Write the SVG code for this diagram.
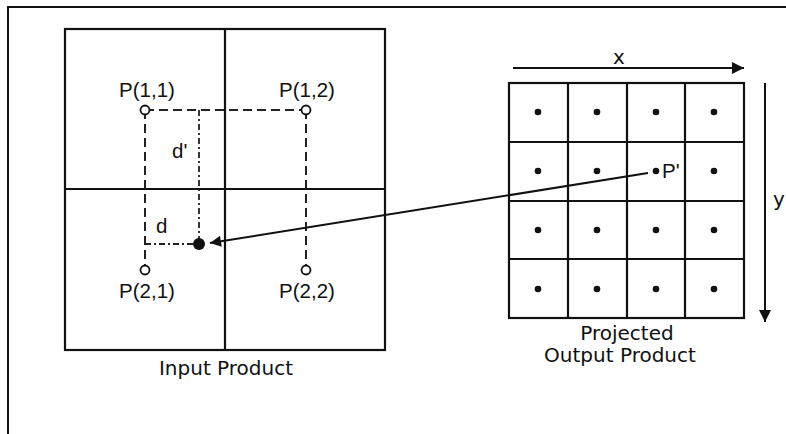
<svg xmlns="http://www.w3.org/2000/svg" width="786" height="434" viewBox="0 0 786 434">
  <defs>
    <style>
      .frame { fill: none; stroke: #111; stroke-width: 2; }
      .grid { fill: none; stroke: #111; stroke-width: 2.2; }
      .dash { fill: none; stroke: #222; stroke-width: 2; stroke-dasharray: 9 5; }
      .dashdot { fill: none; stroke: #222; stroke-width: 1.8; stroke-dasharray: 6 3 2 3; }
      .pt { fill: #fff; stroke: #111; stroke-width: 1.8; }
      .dot { fill: #111; }
      .lbl { font-family: "Liberation Sans", Arial, sans-serif; font-size: 20.5px; fill: #111; }
      .cap { font-family: "DejaVu Sans", Verdana, sans-serif; font-size: 20px; fill: #111; text-anchor: middle; }
      .axis { fill: none; stroke: #111; stroke-width: 2; }
    </style>
    <marker id="head" viewBox="0 0 10 10" refX="10" refY="5" markerWidth="7" markerHeight="6" markerUnits="strokeWidth" orient="auto">
      <path d="M0,0 L10,5 L0,10 z" fill="#111"/>
    </marker>
    <marker id="headThin" viewBox="0 0 10 10" refX="10" refY="5" markerWidth="7" markerHeight="5.5" markerUnits="strokeWidth" orient="auto">
      <path d="M0,0 L10,5 L0,10 z" fill="#111"/>
    </marker>
  </defs>

  <rect width="786" height="434" fill="#fff"/>

  <!-- outer frame (top and left borders) -->
  <path class="frame" d="M8,434 V7 H786"/>

  <!-- input product: 2x2 cells -->
  <g id="input-product">
    <rect class="grid" x="65" y="29" width="320" height="321"/>
    <line class="grid" x1="225" y1="29" x2="225" y2="350"/>
    <line class="grid" x1="65" y1="189" x2="385" y2="189"/>
    <text class="cap" x="226" y="375">Input Product</text>
  </g>

  <!-- interpolation construction -->
  <g id="interpolation">
    <path class="dash" d="M145,110 H306 M145,110 V266 M306,110 V266"/>
    <path class="dashdot" d="M199,110 V240 M145,244 H196"/>
    <circle class="dot" cx="199" cy="244" r="6"/>
    <text class="lbl" x="172" y="158">d'</text>
    <text class="lbl" x="156" y="233">d</text>
  </g>

  <g id="p11">
    <circle class="pt" cx="145" cy="110" r="4.5"/>
    <text class="lbl" x="147" y="97" text-anchor="middle">P(1,1)</text>
  </g>
  <g id="p12">
    <circle class="pt" cx="306" cy="110" r="4.5"/>
    <text class="lbl" x="307" y="97" text-anchor="middle">P(1,2)</text>
  </g>
  <g id="p21">
    <circle class="pt" cx="145" cy="270" r="4.5"/>
    <text class="lbl" x="147" y="298" text-anchor="middle">P(2,1)</text>
  </g>
  <g id="p22">
    <circle class="pt" cx="306" cy="270" r="4.5"/>
    <text class="lbl" x="307" y="298" text-anchor="middle">P(2,2)</text>
  </g>

  <!-- projected output product: 4x4 grid -->
  <g id="output-product">
    <rect class="grid" x="509" y="83" width="235" height="235"/>
    <path class="grid" d="M568,83 V318 M627,83 V318 M685,83 V318 M509,142 H744 M509,201 H744 M509,259 H744"/>
    <g class="dot">
      <circle cx="538" cy="112" r="3.3"/><circle cx="597" cy="112" r="3.3"/><circle cx="656" cy="112" r="3.3"/><circle cx="714" cy="112" r="3.3"/>
      <circle cx="538" cy="171" r="3.3"/><circle cx="597" cy="171" r="3.3"/><circle cx="656" cy="171" r="3.3"/><circle cx="714" cy="171" r="3.3"/>
      <circle cx="538" cy="230" r="3.3"/><circle cx="597" cy="230" r="3.3"/><circle cx="656" cy="230" r="3.3"/><circle cx="714" cy="230" r="3.3"/>
      <circle cx="538" cy="289" r="3.3"/><circle cx="597" cy="289" r="3.3"/><circle cx="656" cy="289" r="3.3"/><circle cx="714" cy="289" r="3.3"/>
    </g>
    <text class="lbl" x="662" y="178">P'</text>
    <text class="cap" x="627" y="340">Projected</text>
    <text class="cap" x="620" y="362">Output Product</text>
  </g>

  <!-- axes -->
  <g id="axes">
    <line class="axis" x1="513" y1="68" x2="744" y2="68" marker-end="url(#head)"/>
    <text class="cap" x="619" y="64">x</text>
    <line class="axis" x1="765" y1="83" x2="765" y2="322" marker-end="url(#head)"/>
    <text class="cap" x="779" y="206" text-anchor="start">y</text>
  </g>

  <!-- connectors -->
  <g id="connectors">
    <line x1="648" y1="173" x2="210" y2="243" stroke="#111" stroke-width="2" marker-end="url(#headThin)"/>
  </g>
</svg>
